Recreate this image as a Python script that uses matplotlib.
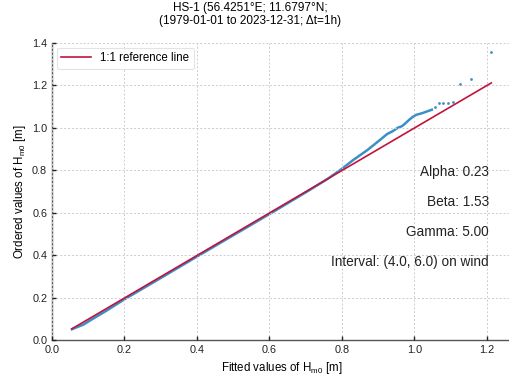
import numpy as np
import matplotlib
matplotlib.use("Agg")
import matplotlib.pyplot as plt

# values
fitted_dense = [0.055, 0.087, 0.10, 0.15, 0.20, 0.30, 0.40, 0.50, 0.60, 0.70, 0.76,
                0.80, 0.83, 0.87, 0.905, 0.925, 0.94, 0.955, 0.965, 0.975, 0.985,
                0.995, 1.005, 1.02, 1.035, 1.048]
ordered_dense = [0.053, 0.075, 0.089, 0.140, 0.194, 0.294, 0.395, 0.495, 0.595, 0.697, 0.760,
                 0.808, 0.848, 0.896, 0.944, 0.972, 0.985, 1.002, 1.008, 1.022, 1.038,
                 1.052, 1.062, 1.069, 1.078, 1.086]
fitted_tail = [1.057, 1.067, 1.078, 1.092, 1.106, 1.127, 1.156, 1.212]
ordered_tail = [1.099, 1.116, 1.116, 1.119, 1.121, 1.207, 1.229, 1.356]

ref_line = [0.055, 1.212]

title = "HS-1 (56.4251\u00b0E; 11.6797\u00b0N;\n(1979-01-01 to 2023-12-31; \u0394t=1h)"
params = ["Alpha: 0.23", "Beta: 1.53", "Gamma: 5.00", "Interval: (4.0, 6.0) on wind"]

plt.rcParams['font.family'] = ['Liberation Sans', 'DejaVu Sans']
plt.rcParams['mathtext.default'] = 'regular'

blue = '#3b8fc7'
red = '#c0143c'

fig = plt.figure(figsize=(5.1, 3.79), dpi=100)
ax = fig.add_axes([52/510, 0.1016, (511 - 52)/510, 0.785])

ax.plot(fitted_dense, ordered_dense, '-', color=blue, lw=1.8, zorder=2)
ax.scatter(fitted_tail, ordered_tail, s=4, color=blue, zorder=2, linewidths=0)
ax.plot(ref_line, ref_line, color=red, lw=1.2, label='1:1 reference line', zorder=3)

ax.set_xlim(0, (511 - 51.7)/362.7)
ax.set_ylim(0, 1.4)
ax.set_xticks(np.arange(0, 1.21, 0.2))
ax.set_yticks(np.arange(0, 1.41, 0.2))
ax.tick_params(direction='in', length=3, width=1, labelsize=7.8, colors='#222222')
ax.grid(True, ls=(0, (2, 2)), color='#cccccc', lw=0.7)
ax.set_axisbelow(False)
for s in ['top', 'right']:
    ax.spines[s].set_visible(False)
for s in ['left', 'bottom']:
    ax.spines[s].set_color('#555555')
    ax.spines[s].set_linewidth(1.0)

ax.set_xlabel('Fitted values of H$_{m0}$ [m]', fontsize=8.3, labelpad=3)
ax.set_ylabel('Ordered values of H$_{m0}$ [m]', fontsize=8.3, labelpad=3)

leg = ax.legend(loc='upper left', fontsize=8.3, frameon=True, handlelength=2.6,
                borderaxespad=0.4)
leg.get_frame().set_edgecolor('#dddddd')
leg.get_frame().set_linewidth(0.8)

for i, txt in enumerate(params):
    ax.text(0.952, 0.567 - i*0.101, txt, transform=ax.transAxes, ha='right',
            va='center', fontsize=9.8, color='#222222')

fig.text(0.49, 0.995, title, ha='center', va='top', fontsize=8.5,
         linespacing=1.15)

fig.savefig('out.png', dpi=100)
